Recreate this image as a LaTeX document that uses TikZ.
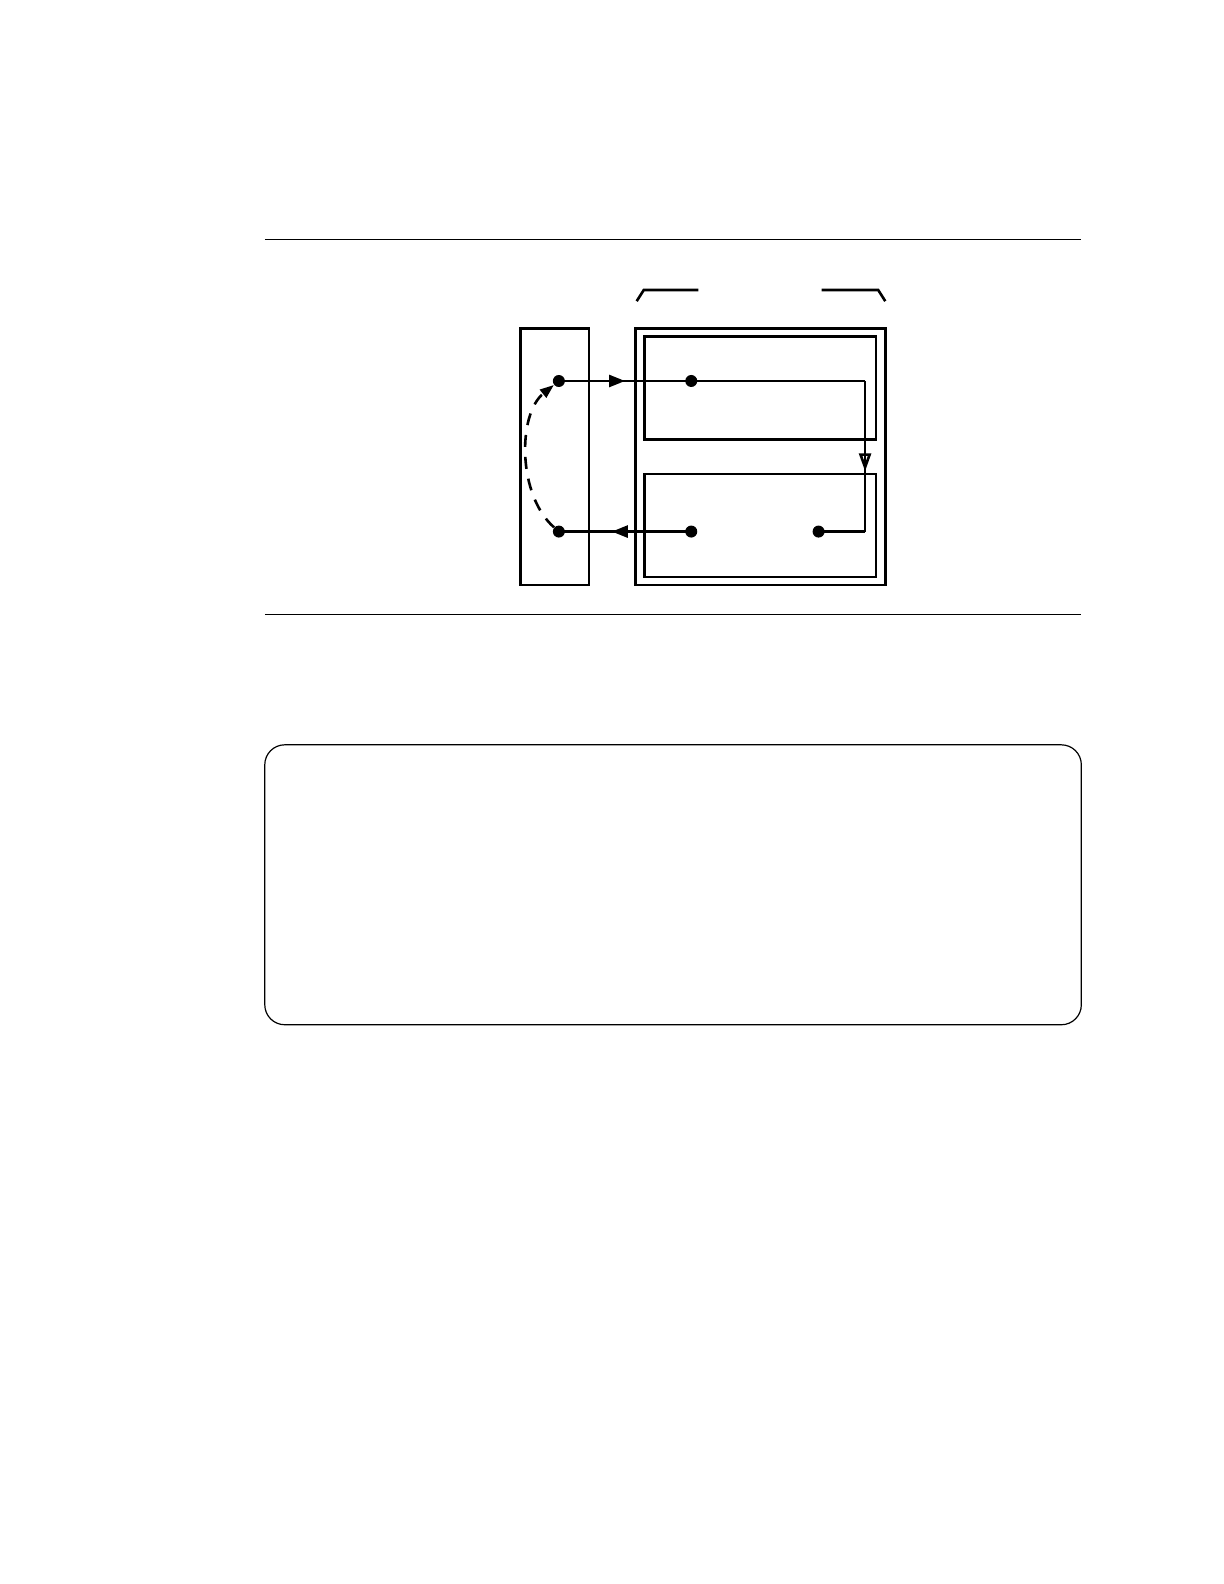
\documentclass[tikz,border=0pt]{standalone}
\usetikzlibrary{arrows.meta,decorations.markings}
\begin{document}
\begin{tikzpicture}[x=0.5053pt,y=-0.5053pt,
  thick line/.style={line width=1.3pt},
  rule/.style={line width=0.6pt},
  dot/.style={circle,fill=black,inner sep=0pt,minimum size=6pt},
  midarrow/.style={postaction={decorate},decoration={markings,mark=at position #1 with {\arrow{Triangle[length=8pt,width=6pt]}}}},
  midopen/.style={postaction={decorate},decoration={markings,mark=at position #1 with {\arrow{Triangle[open,length=9pt,width=6pt]}}}}]
\useasboundingbox (0pt,0pt) rectangle (612pt,-792pt);
% rules
\draw[rule] (262,237) -- (1070,237);
\draw[rule] (262,608) -- (1070,608);
% bracket
\draw[thick line] (630,298) -- (637,287) -- (691,287);
\draw[thick line] (813,287) -- (869,287) -- (876,298);
% boxes
\draw[thick line] (515,325) rectangle (583,579);
\draw[thick line] (629,325) rectangle (876,579);
\draw[thick line] (638,333) rectangle (867,435);
\draw[thick line] (638,469) rectangle (867,571);
% dots
\node[dot] (a) at (553,377) {};
\node[dot] (b) at (684,377) {};
\node[dot] (c) at (553,526) {};
\node[dot] (d) at (684,526) {};
\node[dot] (e) at (810,526) {};
\coordinate (r1) at (856,377);
\coordinate (r2) at (856,526);
% connectors
\draw[thick line,midarrow=0.5] (a.center) -- (b.center);
\draw[thick line] (b.center) -- (r1);
\draw[thick line,midopen=0.6] (r1) -- (r2);
\draw[thick line] (r2) -- (e.center);
\draw[thick line,midarrow=0.6] (d.center) -- (c.center);
\draw[thick line,dashed,dash pattern=on 6pt off 5pt,-{Triangle[length=7pt,width=5pt]}] (c) .. controls (512,490) and (512,410) .. (a);
% rounded box
\draw[rule,rounded corners=10pt] (262,737) rectangle (1070,1014);
\end{tikzpicture}
\end{document}
